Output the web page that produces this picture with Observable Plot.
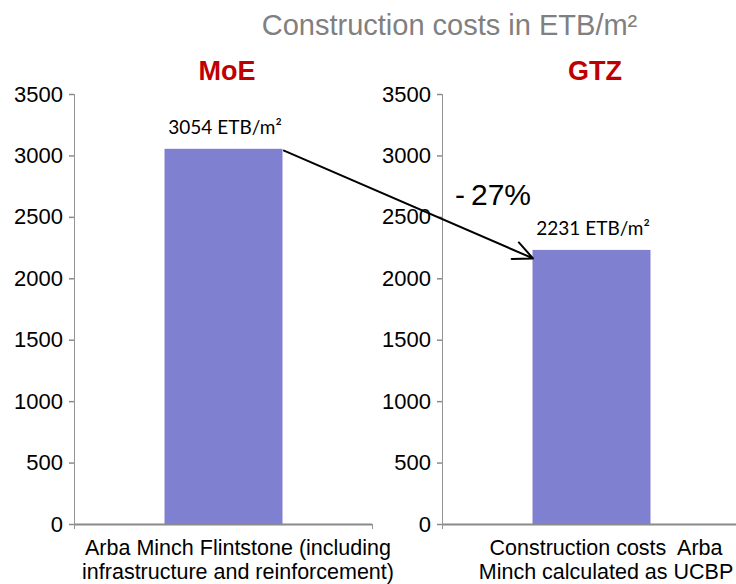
<!DOCTYPE html>
<html><head><meta charset="utf-8">
<script src="https://cdn.jsdelivr.net/npm/d3@7"></script>
<script src="https://cdn.jsdelivr.net/npm/@observablehq/plot@0.6"></script>
<style>
body{margin:0;background:#fff;}
#chart svg{display:block;}
</style></head><body><div id="chart"></div>
<script>
const sources = ["MoE", "GTZ"];
const categories = [
  "Arba Minch Flintstone (including\ninfrastructure and reinforcement)",
  "Construction costs  Arba\nMinch calculated as UCBP"
];
const values = [3054, 2231];
const valueLabels = ["3054 ETB/m²", "2231 ETB/m²"];
const yTicks = [0, 500, 1000, 1500, 2000, 2500, 3000, 3500];
const title = "Construction costs in ETB/m²";
const changeLabel = "-\u200927%";
const arrowFrom = 3255;
const arrowTo = 1958;
const changeLabelAt = 2680;

const data = categories.map((c, i) => ({category: c, source: sources[i], value: values[i], label: valueLabels[i]}));
const ticksData = categories.flatMap(c => yTicks.map(t => ({category: c, tick: t})));
const changeData = [{category: categories[1], at: changeLabelAt, text: changeLabel}];

const W = 736, H = 584, mL = 74, mR = 1, mT = 94, mB = 60;
const xRange = [74, 741];
const xs = Plot.scale({x: {type: "band", domain: categories, range: xRange, paddingInner: 0.192, paddingOuter: 0}});
const bw = xs.bandwidth;
const axisGray = "#8a8a8a";

const chart = Plot.plot({
  width: W, height: H,
  marginLeft: mL, marginRight: mR, marginTop: mT, marginBottom: mB,
  style: {fontFamily: "'Liberation Sans', Arial, sans-serif", background: "#fff", overflow: "visible"},
  x: {type: "band", domain: categories, range: xRange, paddingInner: 0.192, paddingOuter: 0, axis: null},
  y: {domain: [0, 3500], axis: null},
  marks: [
    // bars
    Plot.barY(data, {x: "category", y: "value", fill: "#8080d0", insetLeft: 89.5, insetRight: 89.5}),
    // baselines
    Plot.tickY(data, {x: "category", y: 0, stroke: axisGray, strokeWidth: 2}),
    // spines (extend slightly below baseline)
    Plot.barY(data, {x: "category", y1: 0, y2: 3500, fill: axisGray, insetLeft: -1, insetRight: bw - 1, insetBottom: -5}),
    // end ticks of the category axis
    Plot.barY(data, {x: "category", y1: 0, y2: 0, fill: axisGray, insetLeft: bw - 1, insetRight: -1, insetBottom: -5}),
    // y ticks
    Plot.tickY(ticksData, {x: "category", y: "tick", stroke: axisGray, strokeWidth: 1.5, insetLeft: -6, insetRight: bw}),
    // y tick labels
    Plot.text(ticksData, {x: "category", y: "tick", text: d => String(d.tick), textAnchor: "end", dx: -bw / 2 - 12, fontSize: 22, fill: "#000"}),
    // value labels
    Plot.text(data, {x: "category", y: "value", text: "label", lineAnchor: "bottom", dy: -15, dx: 1, fontFamily: "Lato, 'Open Sans', sans-serif", fontSize: 19, fill: "#000"}),
    // source headers
    Plot.text(data, {x: "category", y: 3500, text: "source", lineAnchor: "middle", dy: -23, dx: 3, fontSize: 27, fontWeight: "bold", fill: "#c00000"}),
    // category labels
    Plot.text(data, {x: "category", y: 0, text: "category", lineAnchor: "top", dy: 13, dx: 14, fontSize: 21.5, lineHeight: 1.12, fill: "#000"}),
    // arrow
    Plot.arrow([{from: categories[0], to: categories[1], y1: arrowFrom, y2: arrowTo}], {
      x1: "from", x2: "to", y1: "y1", y2: "y2",
      insetStart: 65.4, insetEnd: 64.3, stroke: "#000", strokeWidth: 2, headLength: 16, headAngle: 50
    }),
    // change label
    Plot.text(changeData, {x: "category", y: "at", text: "text", textAnchor: "start", lineAnchor: "middle", dx: -137, fontSize: 30, fill: "#000"}),
    // title
    Plot.text([title], {frameAnchor: "top", text: d => d, lineAnchor: "middle", dy: -69, dx: 44.5, fontSize: 29, fill: "#808080"})
  ]
});
document.getElementById("chart").appendChild(chart);
</script></body></html>
